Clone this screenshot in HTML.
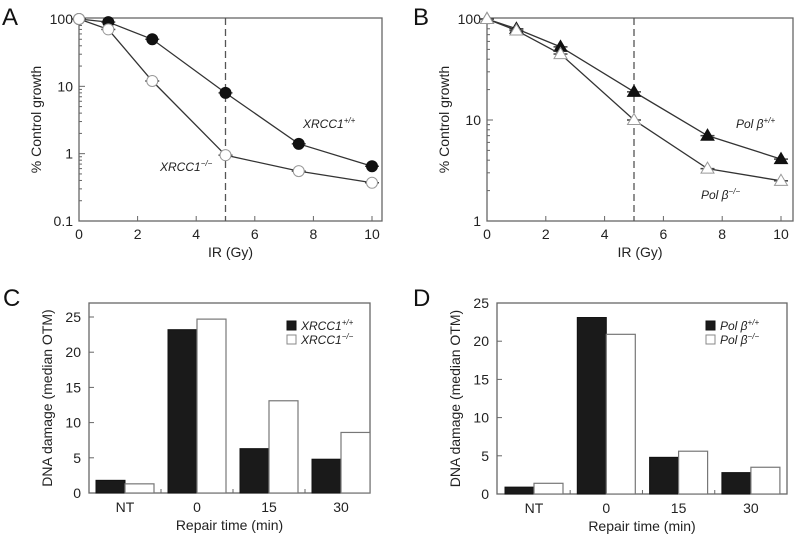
<!DOCTYPE html>
<html><head><meta charset="utf-8">
<style>
body{margin:0;background:#fff;}
svg{display:block;font-family:"Liberation Sans",Arial,sans-serif;}
</style></head>
<body>
<svg id="fig" width="800" height="540" viewBox="0 0 800 540"></svg>
<script>
// Panel A data
const doseX = [0, 1, 2.5, 5, 7.5, 10];
const aPlus = [100, 90, 50, 8, 1.4, 0.65];
const aMinus = [100, 70, 12, 0.95, 0.55, 0.37];
// Panel B data
const bPlus = [100, 80, 53, 19, 7, 4.1];
const bMinus = [100, 77, 45, 10, 3.3, 2.5];
// Panel C / D data
const categories = ["NT", "0", "15", "30"];
const cPlus = [1.8, 23.2, 6.3, 4.8];
const cMinus = [1.3, 24.7, 13.1, 8.6];
const dPlus = [0.9, 23.1, 4.8, 2.8];
const dMinus = [1.4, 20.9, 5.6, 3.5];
const xTicks = [0, 2, 4, 6, 8, 10];
const barTicks = [0, 5, 10, 15, 20, 25];

const NS = "http://www.w3.org/2000/svg";
const svg = document.getElementById("fig");
function el(tag, attrs, parent, txt) {
  const e = document.createElementNS(NS, tag);
  for (const k in attrs) e.setAttribute(k, attrs[k]);
  if (txt !== undefined) e.textContent = txt;
  (parent || svg).appendChild(e);
  return e;
}
const AX = "#666", LN = "#333";

function logPanel(cfg) {
  const g = el("g", {});
  
  
  const sx = v => cfg.x0 + (v / 10) * (cfg.x10 - cfg.x0);
  const lmin = Math.log10(cfg.ymin), lmax = Math.log10(cfg.ymax);
  const sy = v => cfg.yBot - (Math.log10(v) - lmin) / (lmax - lmin) * (cfg.yBot - cfg.yTop);
  const f = el("rect", {x: cfg.x0, y: cfg.boxTop, width: cfg.boxRight - cfg.x0, height: cfg.yBot - cfg.boxTop, fill: "none", stroke: AX, "stroke-width": 1.3}, g);
  
  
  for (let d = lmin; d <= lmax; d++) {
    for (let m = 1; m <= 9; m++) {
      const v = Math.pow(10, d) * m;
      if (v > cfg.ymax * 1.001) break;
      const y = sy(v);
      el("line", {x1: cfg.x0, x2: cfg.x0 + (m === 1 ? 6 : 3), y1: y, y2: y, stroke: AX, "stroke-width": 1}, g);
      if (m === 1) {
        const t = el("text", {x: cfg.x0 - 6, y: y + 5, "text-anchor": "end", "font-size": 14, fill: "#222"}, g, String(v >= 1 ? v : v.toFixed(1)));
        
        
      }
    }
  }
  xTicks.forEach(v => {
    const x = sx(v);
    el("line", {x1: x, x2: x, y1: cfg.yBot, y2: cfg.yBot - 5, stroke: AX}, g);
    const t = el("text", {x: x, y: cfg.yBot + 18, "text-anchor": "middle", "font-size": 14, fill: "#222"}, g, String(v));
    
    
  });
  const xt = el("text", {x: (cfg.x0 + cfg.boxRight) / 2, y: cfg.yBot + 36, "text-anchor": "middle", "font-size": 14, fill: "#222"}, g, "IR (Gy)");
  
  
  const yt = el("text", {x: 0, y: 0, transform: `translate(${cfg.x0 - 38},${(cfg.boxTop + cfg.yBot) / 2}) rotate(-90)`, "text-anchor": "middle", "font-size": 14, fill: "#222"}, g, "% Control growth");
  
  
  const lt = el("text", {x: cfg.letterX, y: 25, "font-size": 24, fill: "#111"}, g, cfg.letter);
  
  
  const dl = el("line", {x1: sx(5), x2: sx(5), y1: cfg.boxTop, y2: cfg.yBot, stroke: "#555", "stroke-width": 1.3, "stroke-dasharray": "7,4"}, g);
  
  
  cfg.series.forEach(s => {
    const pts = doseX.map((d, i) => [sx(d), sy(s.vals[i])]);
    const pl = el("polyline", {points: pts.map(p => p.join(",")).join(" "), fill: "none", stroke: LN, "stroke-width": 1.3}, g);
    
    
    pts.forEach(p => {
      el("line", {x1: p[0] - 7, x2: p[0] + 7, y1: p[1], y2: p[1], stroke: "#444", "stroke-width": 1.5}, g);
      let m;
      if (s.shape === "circle") {
        m = el("circle", {cx: p[0], cy: p[1], r: 5.5, fill: s.fill, stroke: s.fill === "#fff" ? "#999" : "#111", "stroke-width": 1}, g);
      } else {
        const r = 6.5;
        m = el("polygon", {points: `${p[0]},${p[1] - r} ${p[0] - r},${p[1] + r * 0.7} ${p[0] + r},${p[1] + r * 0.7}`, fill: s.fill, stroke: s.fill === "#fff" ? "#999" : "#111", "stroke-width": 1}, g);
      }
      
      
    });
  });
  cfg.labels.forEach(L => {
    const t = el("text", {x: L.x, y: L.y, "font-size": 12, "font-style": "italic", fill: "#222"}, g);
    
    
    t.appendChild(document.createTextNode(L.t));
    el("tspan", {"font-size": 8, dy: -5}, t, L.sup);
  });
}

logPanel({name: "panel-a-chart", letter: "A", letterX: 2, x0: 79, x10: 372, boxRight: 382, boxTop: 18, yTop: 19, yBot: 221, ymin: 0.1, ymax: 100,
  series: [{name: "xrcc1-plus", vals: aPlus, shape: "circle", fill: "#111"}, {name: "xrcc1-minus", vals: aMinus, shape: "circle", fill: "#fff"}],
  labels: [{x: 303, y: 128, t: "XRCC1", sup: "+/+"}, {x: 160, y: 171, t: "XRCC1", sup: "\u2212/\u2212"}]});
logPanel({name: "panel-b-chart", letter: "B", letterX: 413, x0: 487, x10: 781, boxRight: 793, boxTop: 18, yTop: 19, yBot: 221, ymin: 1, ymax: 100,
  series: [{name: "polb-plus", vals: bPlus, shape: "tri", fill: "#111"}, {name: "polb-minus", vals: bMinus, shape: "tri", fill: "#fff"}],
  labels: [{x: 736, y: 128, t: "Pol \u03b2", sup: "+/+"}, {x: 701, y: 199, t: "Pol \u03b2", sup: "\u2212/\u2212"}]});

function barPanel(cfg) {
  const g = el("g", {});
  
  
  const sy = v => cfg.yBot - v / 25 * (cfg.yBot - cfg.y25);
  const cx = i => cfg.c0 + i * cfg.step;
  const f = el("rect", {x: cfg.x0, y: cfg.boxTop, width: cfg.x1 - cfg.x0, height: cfg.yBot - cfg.boxTop, fill: "none", stroke: AX, "stroke-width": 1.3}, g);
  
  
  barTicks.forEach(v => {
    const y = sy(v);
    el("line", {x1: cfg.x0, x2: cfg.x0 + 5, y1: y, y2: y, stroke: AX}, g);
    const t = el("text", {x: cfg.x0 - 8, y: y + 5, "text-anchor": "end", "font-size": 14, fill: "#222"}, g, String(v));
    
    
  });
  categories.forEach((c, i) => {
    if (i > 0) { const x = cx(i) - cfg.step / 2; el("line", {x1: x, x2: x, y1: cfg.yBot, y2: cfg.yBot - 4, stroke: AX}, g); }
    const t = el("text", {x: cx(i), y: cfg.yBot + 19, "text-anchor": "middle", "font-size": 14, fill: "#222"}, g, c);
    
    
    const bw = 29;
    const b1 = el("rect", {x: cx(i) - bw, y: sy(cfg.plus[i]), width: bw, height: cfg.yBot - sy(cfg.plus[i]), fill: "#1a1a1a", stroke: "#111"}, g);
    
    
    const b2 = el("rect", {x: cx(i), y: sy(cfg.minus[i]), width: bw, height: cfg.yBot - sy(cfg.minus[i]), fill: "#fff", stroke: "#777", "stroke-width": 1.2}, g);
    
    
  });
  const xt = el("text", {x: (cfg.x0 + cfg.x1) / 2, y: cfg.yBot + 37, "text-anchor": "middle", "font-size": 14, fill: "#222"}, g, "Repair time (min)");
  
  
  const yt = el("text", {x: 0, y: 0, transform: `translate(${cfg.x0 - 37},${(cfg.boxTop + cfg.yBot) / 2}) rotate(-90)`, "text-anchor": "middle", "font-size": 14, fill: "#222"}, g, "DNA damage (median OTM)");
  
  
  const lt = el("text", {x: cfg.letterX, y: 306, "font-size": 24, fill: "#111"}, g, cfg.letter);
  
  
  const lg = el("g", {}, g);
  
  
  [[cfg.lgY, "#1a1a1a", "#111", "+/+"], [cfg.lgY + 14, "#fff", "#888", "\u2212/\u2212"]].forEach(r => {
    el("rect", {x: cfg.lgX, y: r[0], width: 9, height: 9, fill: r[1], stroke: r[2]}, lg);
    const t = el("text", {x: cfg.lgX + 14, y: r[0] + 9, "font-size": 12, "font-style": "italic", fill: "#222"}, lg);
    
    
    t.appendChild(document.createTextNode(cfg.lgText));
    el("tspan", {"font-size": 8, dy: -5}, t, r[3]);
  });
}
barPanel({name: "panel-c-chart", letter: "C", letterX: 3, x0: 89, x1: 370, boxTop: 303, y25: 317, yBot: 493, c0: 125, step: 72, plus: cPlus, minus: cMinus, lgX: 287, lgY: 321, lgText: "XRCC1"});
barPanel({name: "panel-d-chart", letter: "D", letterX: 413, x0: 497, x1: 787, boxTop: 303, y25: 303, yBot: 494, c0: 534, step: 72.3, plus: dPlus, minus: dMinus, lgX: 706, lgY: 321, lgText: "Pol \u03b2"});
</script>
</body></html>
